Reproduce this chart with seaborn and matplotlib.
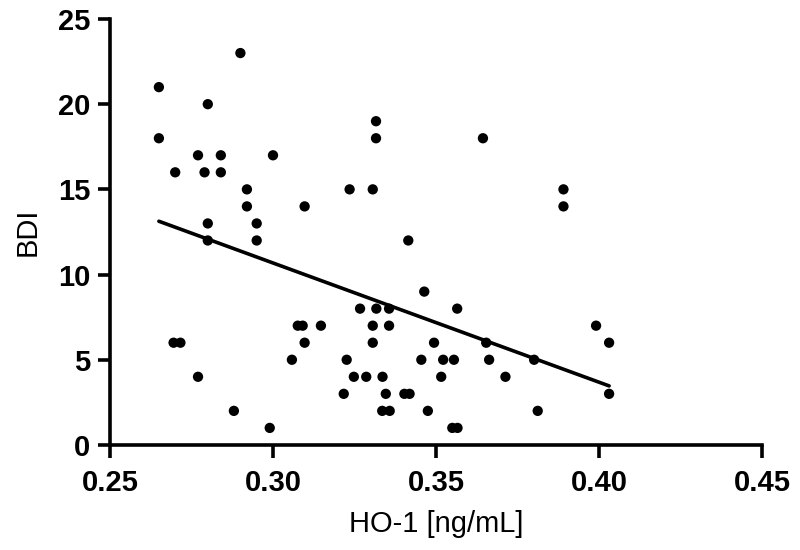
import pandas as pd
import matplotlib.pyplot as plt
import seaborn as sns

# Werte
ho1 = [0.290, 0.265, 0.280, 0.265, 0.277, 0.284, 0.300, 0.270, 0.279, 0.284,
       0.292, 0.292, 0.295, 0.280, 0.280, 0.295, 0.2695, 0.2716, 0.277, 0.288,
       0.299, 0.3316, 0.3316, 0.3235, 0.3306, 0.3097, 0.3415, 0.3464, 0.3267, 0.3317,
       0.3356, 0.3565, 0.3076, 0.3091, 0.3147, 0.3306, 0.3356, 0.3097, 0.3306, 0.3494,
       0.3058, 0.3226, 0.3455, 0.3522, 0.3555, 0.3248, 0.3286, 0.3336, 0.3516, 0.3217,
       0.3346, 0.3403, 0.3419, 0.3335, 0.3358, 0.3475, 0.3550, 0.3566, 0.3644, 0.3891,
       0.3891, 0.3991, 0.3654, 0.4031, 0.3663, 0.3801, 0.3713, 0.4031, 0.3812]
bdi = [23, 21, 20, 18, 17, 17, 17, 16, 16, 16,
       15, 14, 13, 13, 12, 12, 6, 6, 4, 2,
       1, 19, 18, 15, 15, 14, 12, 9, 8, 8,
       8, 8, 7, 7, 7, 7, 7, 6, 6, 6,
       5, 5, 5, 5, 5, 4, 4, 4, 4, 3,
       3, 3, 3, 2, 2, 2, 1, 1, 18, 15,
       14, 7, 6, 6, 5, 5, 4, 3, 2]
xticks = [0.25, 0.30, 0.35, 0.40, 0.45]
xticklabels = ["0.25", "0.30", "0.35", "0.40", "0.45"]
yticks = [0, 5, 10, 15, 20, 25]

df = pd.DataFrame({"HO-1": ho1, "BDI": bdi})

sns.set_style("ticks")
plt.rcParams["font.family"] = ["Liberation Sans", "DejaVu Sans"]
plt.rcParams["text.color"] = "black"
plt.rcParams["axes.labelcolor"] = "black"

fig = plt.figure(figsize=(8, 5.5), dpi=100)
ax = fig.add_axes([0.1375, 0.191, 0.815, 0.7745])

sns.scatterplot(x="HO-1", y="BDI", data=df, color="black", s=55,
                edgecolor="none", ax=ax, zorder=3)
sns.regplot(x="HO-1", y="BDI", data=df, scatter=False, ci=None,
            color="black", line_kws={"linewidth": 2.6}, ax=ax)

ax.set_xlim(0.25, 0.45)
ax.set_ylim(0, 25)
ax.set_xticks(xticks)
ax.set_xticklabels(xticklabels)
ax.set_yticks(yticks)

ax.spines["top"].set_visible(False)
ax.spines["right"].set_visible(False)
for sp in ["left", "bottom"]:
    ax.spines[sp].set_linewidth(2.6)
    ax.spines[sp].set_color("black")
ax.tick_params(axis="both", direction="out", length=9, width=2.6,
               colors="black", labelsize=21, pad=5)
ax.tick_params(axis="x", pad=8)
for lab in ax.get_xticklabels() + ax.get_yticklabels():
    lab.set_fontweight("bold")

ax.set_xlabel("HO-1 [ng/mL]", fontsize=21, labelpad=10)
ax.set_ylabel("BDI", fontsize=21, labelpad=12)

fig.savefig("out.png", dpi=100)
